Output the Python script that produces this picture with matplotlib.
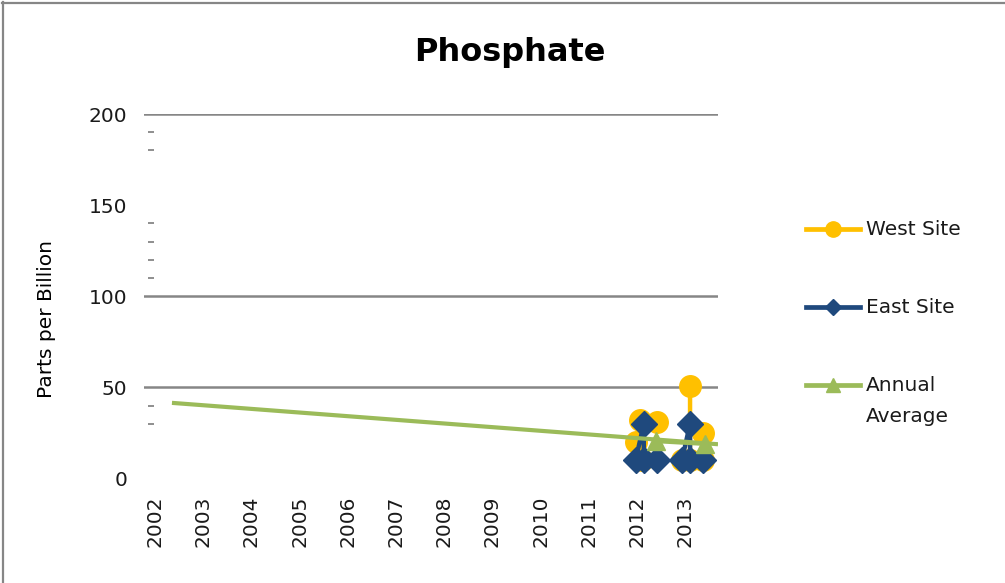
import numpy as np
import matplotlib
matplotlib.use("Agg")
import matplotlib.pyplot as plt
from matplotlib.lines import Line2D

# ---------------- data ----------------
title = "Phosphate"
y_label = "Parts per Billion"
series_names = ["West Site", "East Site", "Annual\nAverage"]
year_labels = [2002, 2003, 2004, 2005, 2006, 2007, 2008, 2009, 2010, 2011, 2012, 2013]
tick_mark_years = [2003, 2005, 2007, 2009, 2011, 2013]
y_ticks = [0, 50, 100, 150, 200]
grid_values = [50, 100, 200]
minor_marks = [30, 40, 110, 120, 130, 140, 180, 190]

nan = np.nan
west_dates = [2012.41, 2012.06, 2012.10, 2011.97, nan, 2013.36, 2013.36, 2012.93, 2013.10, 2013.10]
west_ppb = [31, 32, 10, 20, nan, 25, 10, 10, 10, 51]

east_dates = [2011.97, 2012.14, 2012.14, 2012.41, nan, 2012.93, 2013.10, 2013.10, 2013.36]
east_ppb = [10, 30, 10, 10, nan, 10, 30, 10, 10]

avg_dates = [2012.39, 2013.40]
avg_ppb = [20.5, 19]

trend_dates = [2002.35, 2013.68]
trend_ppb = [41.5, 18.8]

# ---------------- styling ----------------
C_WEST = "#FFC000"
C_EAST = "#1F497D"
C_AVG = "#9BBB59"
C_GRID = "#868686"

W, H = 1005, 583
fig = plt.figure(figsize=(W / 100, H / 100), dpi=100)
plt.rcParams['font.family'] = ['DejaVu Sans']

def fx(px):
    return px / W

def fy(py):
    return 1 - py / H

ax_l, ax_r, ax_t, ax_b = 144, 718, 114, 478.5
ax = fig.add_axes([fx(ax_l), fy(ax_b), fx(ax_r - ax_l), (ax_b - ax_t) / H])
ax.set_xlim(2001.77, 2013.68)
ax.set_ylim(0, 200)
for s in ax.spines.values():
    s.set_visible(False)

for g in grid_values:
    ax.axhline(g, color=C_GRID, lw=1.8, zorder=1)
ax.hlines(minor_marks, 0.007, 0.018, transform=ax.get_yaxis_transform(),
          color=C_GRID, lw=1.3, zorder=1)

ax.plot(west_dates, west_ppb, color=C_WEST, lw=3.2, marker='o', ms=15.5,
        mec=C_WEST, mfc=C_WEST, zorder=3)
ax.plot(east_dates, east_ppb, color=C_EAST, lw=3.2, marker='D', ms=13.5,
        mec=C_EAST, mfc=C_EAST, zorder=4)
ax.plot(trend_dates, trend_ppb, color=C_AVG, lw=3.0, zorder=5, solid_capstyle='butt')
ax.plot(avg_dates, avg_ppb, color=C_AVG, lw=3.0, marker='^', ms=12.5, zorder=6)

ax.set_yticks(y_ticks)
ax.set_yticklabels([str(v) for v in y_ticks])
ax.tick_params(axis='y', length=0, pad=12, labelsize=14.5, labelcolor='#1a1a1a')

ax.set_xticks(year_labels)
ax.set_xticklabels([str(y) for y in year_labels], rotation=90)
ax.tick_params(axis='x', which='major', length=0, pad=12, labelsize=14.5, labelcolor='#1a1a1a')
ax.set_xticks(tick_mark_years, minor=True)
ax.tick_params(axis='x', which='minor', length=7, width=1.3, color=C_GRID, direction='out')

# title and axis label
fig.text(fx(510), fy(52), title, ha='center', va='center', fontsize=23, fontweight='bold')
fig.text(fx(46), fy(319), y_label, ha='center', va='center', rotation=90, fontsize=14.5,
         fontweight='medium')

# legend (manual, Excel style)
leg_y = [229, 307, 385]
specs = [(C_WEST, 'o', 11), (C_EAST, 'D', 8.5), (C_AVG, '^', 10)]
for name, yy, (c, m, ms) in zip(series_names, leg_y, specs):
    fig.add_artist(Line2D([fx(806), fx(860)], [fy(yy), fy(yy)], transform=fig.transFigure,
                          color=c, lw=3.4, marker=None))
    fig.add_artist(Line2D([fx(833)], [fy(yy)], transform=fig.transFigure,
                          color=c, marker=m, ms=ms, mec=c, mfc=c, lw=0))
    fig.text(fx(866), fy(yy - 9), name, ha='left', va='top', fontsize=14.5,
             linespacing=1.8, color='#1a1a1a')

# chart border (top and left visible)
fig.add_artist(Line2D([fx(3), fx(3)], [fy(2), 0], transform=fig.transFigure, color=C_GRID, lw=1.6))
fig.add_artist(Line2D([fx(2), 1], [fy(2.5), fy(2.5)], transform=fig.transFigure, color=C_GRID, lw=1.6))

fig.savefig("out.png", dpi=100)
